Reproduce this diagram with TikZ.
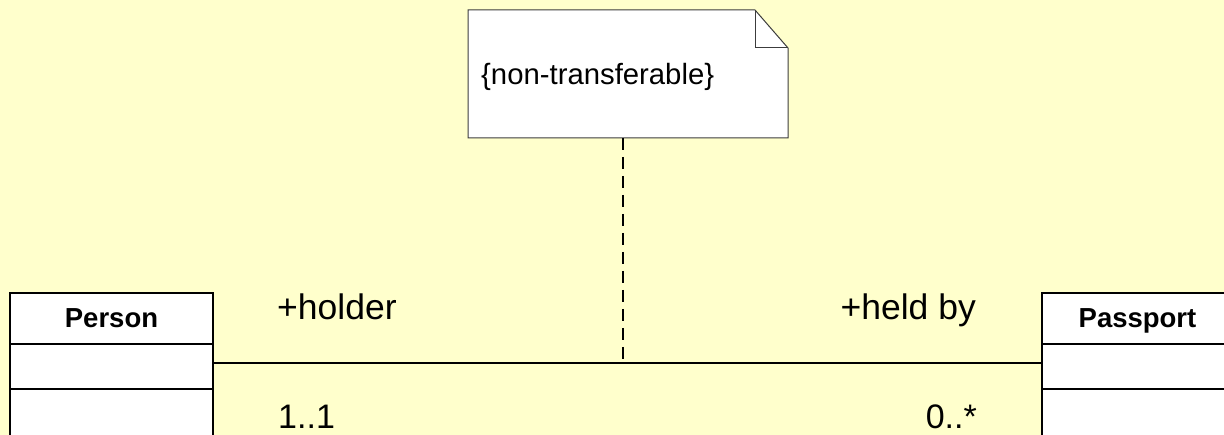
\documentclass[tikz,border=0pt]{standalone}
\usepackage{fontspec}
\setmainfont{Liberation Sans}
\usetikzlibrary{calc}
\begin{document}
\begin{tikzpicture}[x=1pt,y=-1pt,
  compart/.style={draw=black,line width=2pt,fill=white,anchor=north west,minimum width=203pt,inner sep=0pt,outer sep=0pt},
  classname/.style={font=\fontsize{27.5}{30}\selectfont\bfseries,inner sep=0pt,anchor=base},
  rolelabel/.style={font=\fontsize{35.5}{38}\selectfont,inner sep=0pt},
  multlabel/.style={font=\fontsize{34}{37}\selectfont,inner sep=0pt},
  notetxt/.style={font=\fontsize{29.3}{32}\selectfont,inner sep=0pt,anchor=base west},
  assoc/.style={line width=1.6pt,black},
  anchorline/.style={line width=1.3pt,black,dash pattern=on 12pt off 7pt}
]
\useasboundingbox (0,0) rectangle (1224,435);
\clip (0,0) rectangle (1224,435);
\fill[fill={rgb,255:red,255;green,255;blue,204}] (0,0) rectangle (1224,435);

% Person class
\node[compart,minimum height=51pt] (p1) at (10,293) {};
\node[compart,minimum height=45pt] (p2) at (10,344) {};
\node[compart,minimum height=60pt] (p3) at (10,389) {};
\node[classname] (pname) at (111.5,328) {Person};

% Passport class
\node[compart,minimum height=51pt] (q1) at (1042,293) {};
\node[compart,minimum height=45pt] (q2) at (1042,344) {};
\node[compart,minimum height=60pt] (q3) at (1042,389) {};
\node[classname] (qname) at (1137.5,328) {Passport};

% association
\coordinate (a) at (623,363);
\draw[assoc] (p2.east |- a) -- (q2.west |- a);

% note
\node[minimum width=320pt,minimum height=128pt,anchor=north west,inner sep=0pt,outer sep=0pt] (note) at (468,10) {};
\draw[line width=1pt,draw={rgb,255:red,60;green,60;blue,60},fill=white]
  (note.north west) -- ($(note.north east)+(-33,0)$) -- ($(note.north east)+(0,38)$)
  -- (note.south east) -- (note.south west) -- cycle;
\draw[line width=1pt,draw={rgb,255:red,60;green,60;blue,60}]
  ($(note.north east)+(-33,0)$) -- ($(note.north east)+(-33,38)$) -- ($(note.north east)+(0,38)$);
\node[notetxt] (nt) at (481,85) {\{non-transferable\}};
\draw[anchorline] (note.south -| a) -- (a);

% labels
\node[rolelabel,anchor=base west] (holder) at (277,320) {+holder};
\node[multlabel,anchor=base west] (m1) at (278,429) {1..1};
\node[rolelabel,anchor=base east] (heldby) at (976,320) {+held by};
\node[multlabel,anchor=base east] (m2) at (977,429) {0..*};
\end{tikzpicture}
\end{document}
